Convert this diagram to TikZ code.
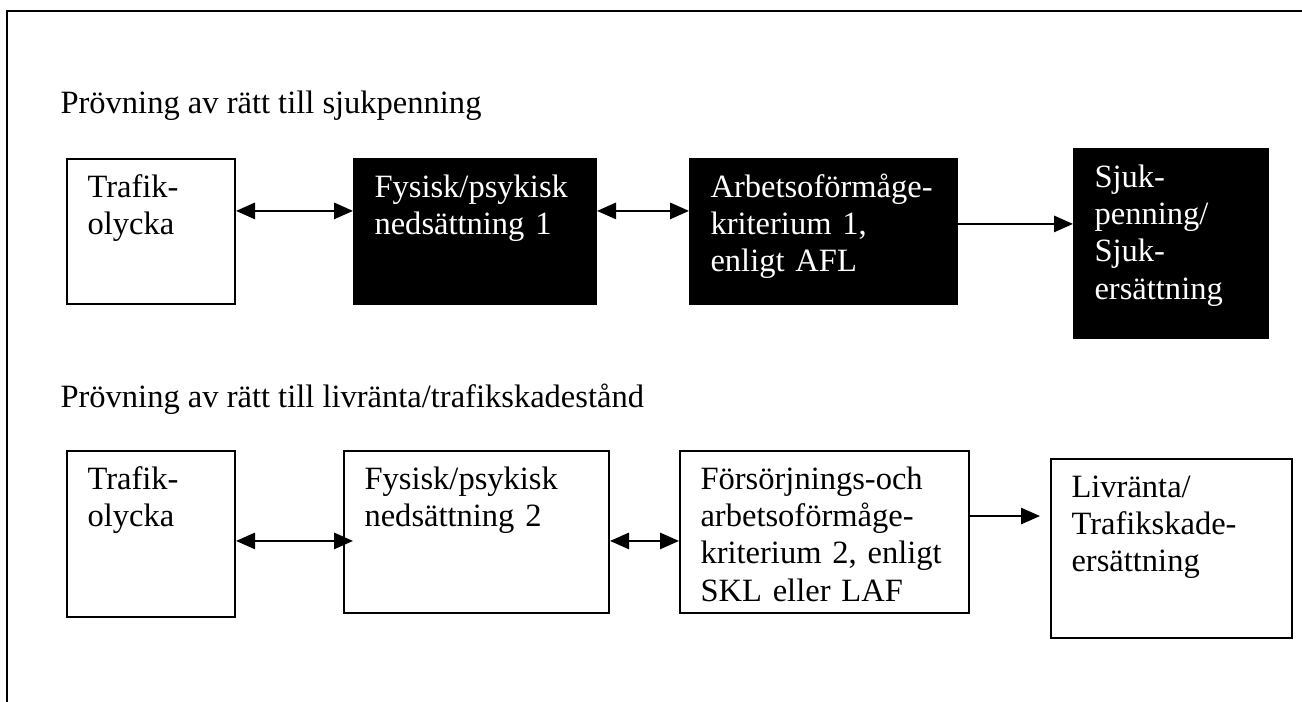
\documentclass[tikz,border=0pt]{standalone}
\usepackage{fontspec}
\setmainfont{Liberation Serif}
\usetikzlibrary{arrows.meta}

\def\px{0.369pt}
\tikzset{
  ruta/.style={draw, line width=0.75pt, anchor=north west, inner sep=0pt},
  svart/.style={ruta, fill=black},
  rutatext/.style={anchor=base west, align=left, text width=96pt, inner sep=0pt,
    xshift=7.75pt, yshift=-14.4pt, font=\fontsize{12}{13.8}\selectfont},
  rubrik/.style={anchor=base west, inner sep=0pt, font=\fontsize{12}{13.8}\selectfont},
}

\begin{document}
\begin{tikzpicture}[x=0.369pt, y=-0.369pt, >={Triangle[length=7pt,width=6pt]}]
  \useasboundingbox (0,0) rectangle (1302,702);
  % ram
  \draw[line width=0.75pt] (7,702) -- (7,11) -- (1302,11);

  % sjukpenning
  \node[rubrik] (rubrik1) at (60,114) {Prövning av rätt till sjukpenning};
  \node[ruta, minimum width=168*\px, minimum height=145*\px] (olycka1) at (66,158) {};
  \node[rutatext] (olycka1txt) at (olycka1.north west) {Trafik-\\olycka};
  \node[svart, minimum width=242*\px, minimum height=145*\px] (ned1) at (353,158) {};
  \node[rutatext, white] (ned1txt) at (ned1.north west) {Fysisk/psykisk\\nedsättning 1};
  \node[svart, minimum width=267*\px, minimum height=145*\px] (arb1) at (689,158) {};
  \node[rutatext, white] (arb1txt) at (arb1.north west) {Arbetsoförmåge-\\kriterium 1,\\enligt AFL};
  \node[svart, minimum width=194*\px, minimum height=189*\px] (sjuk1) at (1073,148) {};
  \node[rutatext, white] (sjuk1txt) at (sjuk1.north west) {Sjuk-\\penning/\\Sjuk-\\ersättning};

  \draw[<->, line width=0.75pt] ([yshift=7.6pt]olycka1.east) coordinate (p1) -- (p1 -| ned1.west);
  \draw[<->, line width=0.75pt] ([yshift=7.6pt]ned1.east) coordinate (p2) -- (p2 -| arb1.west);
  \draw[->, line width=0.75pt] ([yshift=2.8pt]arb1.east) coordinate (p3) -- (p3 -| sjuk1.west);

  % livränta/trafikskadestånd
  \node[rubrik] (rubrik2) at (60,408) {Prövning av rätt till livränta/trafikskadestånd};
  \node[ruta, minimum width=168*\px, minimum height=166*\px] (olycka2) at (66,450) {};
  \node[rutatext] (olycka2txt) at (olycka2.north west) {Trafik-\\olycka};
  \node[ruta, minimum width=265*\px, minimum height=162*\px] (ned2) at (343,450) {};
  \node[rutatext] (ned2txt) at (ned2.north west) {Fysisk/psykisk\\nedsättning 2};
  \node[ruta, minimum width=289*\px, minimum height=162*\px] (forsorj2) at (679,450) {};
  \node[rutatext] (forsorj2txt) at (forsorj2.north west) {Försörjnings-och\\arbetsoförmåge-\\kriterium 2, enligt\\SKL eller LAF};
  \node[ruta, minimum width=241*\px, minimum height=179*\px] (livr2) at (1050,458) {};
  \node[rutatext] (livr2txt) at (livr2.north west) {Livränta/\\Trafikskade-\\ersättning};

  \draw[<->, line width=0.75pt, shorten <=-3.7pt] ([yshift=-3.3pt]ned2.west) coordinate (p4) -- (p4 -| olycka2.east);
  \draw[<->, line width=0.75pt] ([yshift=-3.3pt]ned2.east) coordinate (p5) -- (p5 -| forsorj2.west);
  \draw[->, line width=0.75pt, shorten >=3.7pt] ([yshift=5.9pt]forsorj2.east) coordinate (p6) -- (p6 -| livr2.west);
\end{tikzpicture}
\end{document}
